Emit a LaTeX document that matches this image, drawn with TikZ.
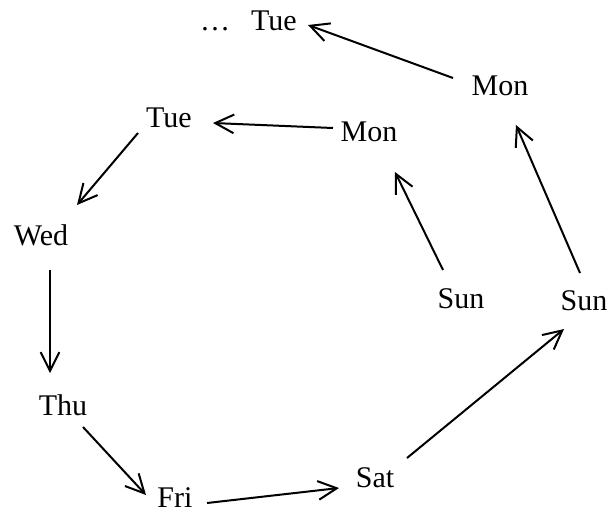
\documentclass[tikz,border=0pt]{standalone}
\usepackage{fontspec}
\setmainfont{Liberation Serif}
\usetikzlibrary{arrows.meta}
\begin{document}
\begin{tikzpicture}[x=0.75pt,y=-0.75pt,
  day/.style={anchor=base,inner sep=0pt,font=\fontsize{22.5}{27}\selectfont},
  arr/.style={line width=1.5pt,-{Straight Barb[length=14pt,width=14pt,line width=1.5pt]}}]
\useasboundingbox (0,0) rectangle (611,512);
\node[day] (dots) at (215,30) {\ldots};
\node[day] (tueB) at (274,30) {Tue};
\node[day] (monB) at (500,95) {Mon};
\node[day] (monA) at (369,141) {Mon};
\node[day] (tueA) at (169,127) {Tue};
\node[day] (wed) at (41,245) {Wed};
\node[day] (thu) at (63,415) {Thu};
\node[day] (fri) at (175,507) {Fri};
\node[day] (sat) at (375,487) {Sat};
\node[day] (sunA) at (461,308) {Sun};
\node[day] (sunB) at (584,310) {Sun};
\draw[arr] ([shift={(-47,-17)}]monB.base) -- ([shift={(34,-5)}]tueB.base);
\draw[arr] ([shift={(-36,-13)}]monA.base) -- ([shift={(44,-4)}]tueA.base);
\draw[arr] ([shift={(-31,6)}]tueA.base) -- ([shift={(36,-40)}]wed.base);
\draw[arr] ([shift={(9,25)}]wed.base) -- ([shift={(-13,-42)}]thu.base);
\draw[arr] ([shift={(20,12)}]thu.base) -- ([shift={(-29,-12)}]fri.base);
\draw[arr] ([shift={(32,-4)}]fri.base) -- ([shift={(-36,1)}]sat.base);
\draw[arr] ([shift={(32,-29)}]sat.base) -- ([shift={(-20,19)}]sunB.base);
\draw[arr] ([shift={(-18,-38)}]sunA.base) -- ([shift={(26,31)}]monA.base);
\draw[arr] ([shift={(-4,-37)}]sunB.base) -- ([shift={(16,30)}]monB.base);
\end{tikzpicture}
\end{document}
